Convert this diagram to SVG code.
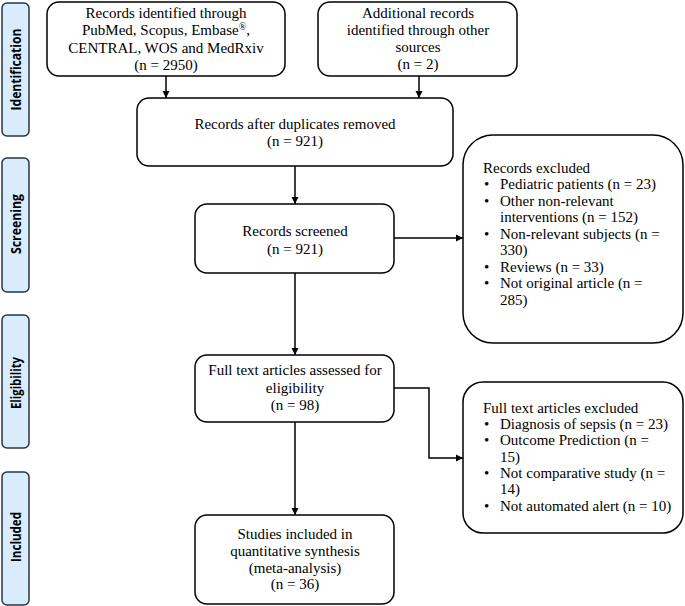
<svg xmlns="http://www.w3.org/2000/svg" width="685" height="606" viewBox="0 0 685 606">
<style>
.box{fill:#fff;stroke:#000;stroke-width:1.5}
.side{fill:#d9ecfb;stroke:#263545;stroke-width:1.5}
.t{font-family:"Liberation Serif","Times New Roman",serif;font-size:15px;fill:#000}
.c{text-anchor:middle}
.s{font-family:"Open Sans","Liberation Sans",sans-serif;font-size:13.5px;font-weight:700;fill:#000;text-anchor:middle}
.ln{fill:none;stroke:#000;stroke-width:1.5}
</style>
<defs>
<marker id="ah" markerWidth="8" markerHeight="8" refX="7" refY="4" orient="auto" markerUnits="userSpaceOnUse">
<path d="M0,0.5 L7,4 L0,7.5 Z" fill="#000"/>
</marker>
</defs>
<g id="side-identification"><rect class="side" x="2" y="3" width="27" height="133" rx="5"/><text class="s" transform="translate(20.5,69.5) rotate(-90)" textLength="82" lengthAdjust="spacingAndGlyphs">Identification</text></g>
<g id="side-screening"><rect class="side" x="2" y="158" width="27" height="134" rx="5"/><text class="s" transform="translate(20.5,224) rotate(-90)" textLength="60" lengthAdjust="spacingAndGlyphs">Screening</text></g>
<g id="side-eligibility"><rect class="side" x="2" y="315" width="27" height="133" rx="5"/><text class="s" transform="translate(20.5,383) rotate(-90)" textLength="52" lengthAdjust="spacingAndGlyphs">Eligibility</text></g>
<g id="side-included"><rect class="side" x="2" y="472" width="27" height="133" rx="5"/><text class="s" transform="translate(20.5,537) rotate(-90)" textLength="50" lengthAdjust="spacingAndGlyphs">Included</text></g>

<g id="connectors">
<line class="ln" x1="166" y1="76" x2="166" y2="98" marker-end="url(#ah)"/>
<line class="ln" x1="419" y1="76" x2="419" y2="98" marker-end="url(#ah)"/>
<line class="ln" x1="295" y1="166" x2="295" y2="204" marker-end="url(#ah)"/>
<line class="ln" x1="394" y1="238" x2="463" y2="238" marker-end="url(#ah)"/>
<line class="ln" x1="295" y1="273" x2="295" y2="355" marker-end="url(#ah)"/>
<polyline class="ln" points="394,388 429,388 429,458 463,458" marker-end="url(#ah)"/>
<line class="ln" x1="295" y1="422" x2="295" y2="515" marker-end="url(#ah)"/>
</g>

<g id="n-records-identified"><rect class="box" x="47" y="2" width="238" height="74" rx="12"/>
<text class="t c" x="166" y="17.5">Records identified through</text>
<text class="t c" x="166" y="35">PubMed, Scopus, Embase<tspan font-size="10" dy="-5">®</tspan><tspan dy="5">,</tspan></text>
<text class="t c" x="166" y="52.5">CENTRAL, WOS and MedRxiv</text>
<text class="t c" x="166" y="70">(n = 2950)</text></g>

<g id="n-additional"><rect class="box" x="318" y="2" width="199" height="74" rx="12"/>
<text class="t c" x="418" y="17.5">Additional records</text>
<text class="t c" x="418" y="35">identified through other</text>
<text class="t c" x="418" y="52">sources</text>
<text class="t c" x="418" y="69">(n = 2)</text></g>

<g id="n-after-duplicates"><rect class="box" x="137" y="98" width="316" height="68" rx="12"/>
<text class="t c" x="295" y="128.5">Records after duplicates removed</text>
<text class="t c" x="295" y="146">(n = 921)</text></g>

<g id="n-screened"><rect class="box" x="195" y="204" width="199" height="69" rx="12"/>
<text class="t c" x="295" y="236">Records screened</text>
<text class="t c" x="295" y="254">(n = 921)</text></g>

<g id="n-records-excluded"><rect class="box" x="463" y="135" width="220" height="208" rx="30"/>
<text class="t" x="483" y="172.7">Records excluded</text>
<text class="t" x="484" y="189.2">•</text><text class="t" x="500" y="189.2">Pediatric patients (n = 23)</text>
<text class="t" x="484" y="205.7">•</text><text class="t" x="500" y="205.7">Other non-relevant</text>
<text class="t" x="500" y="222.2">interventions (n = 152)</text>
<text class="t" x="484" y="238.7">•</text><text class="t" x="500" y="238.7">Non-relevant subjects (n =</text>
<text class="t" x="500" y="255.2">330)</text>
<text class="t" x="484" y="271.7">•</text><text class="t" x="500" y="271.7">Reviews (n = 33)</text>
<text class="t" x="484" y="288.2">•</text><text class="t" x="500" y="288.2">Not original article (n =</text>
<text class="t" x="500" y="304.7">285)</text></g>

<g id="n-fulltext-assessed"><rect class="box" x="195" y="355" width="199" height="67" rx="12"/>
<text class="t c" x="295" y="375">Full text articles assessed for</text>
<text class="t c" x="295" y="392.5">eligibility</text>
<text class="t c" x="295" y="410">(n = 98)</text></g>

<g id="n-fulltext-excluded"><rect class="box" x="463" y="382" width="220" height="151" rx="20"/>
<text class="t" x="483" y="412.7">Full text articles excluded</text>
<text class="t" x="484" y="429">•</text><text class="t" x="500" y="429">Diagnosis of sepsis (n = 23)</text>
<text class="t" x="484" y="445.3">•</text><text class="t" x="500" y="445.3">Outcome Prediction (n =</text>
<text class="t" x="500" y="461.6">15)</text>
<text class="t" x="484" y="477.9">•</text><text class="t" x="500" y="477.9">Not comparative study (n =</text>
<text class="t" x="500" y="494.2">14)</text>
<text class="t" x="484" y="510.5">•</text><text class="t" x="500" y="510.5">Not automated alert (n = 10)</text></g>

<g id="n-included"><rect class="box" x="195" y="515" width="199" height="89" rx="12"/>
<text class="t c" x="295" y="539">Studies included in</text>
<text class="t c" x="295" y="556">quantitative synthesis</text>
<text class="t c" x="295" y="572.5">(meta-analysis)</text>
<text class="t c" x="295" y="589">(n = 36)</text></g>
</svg>
